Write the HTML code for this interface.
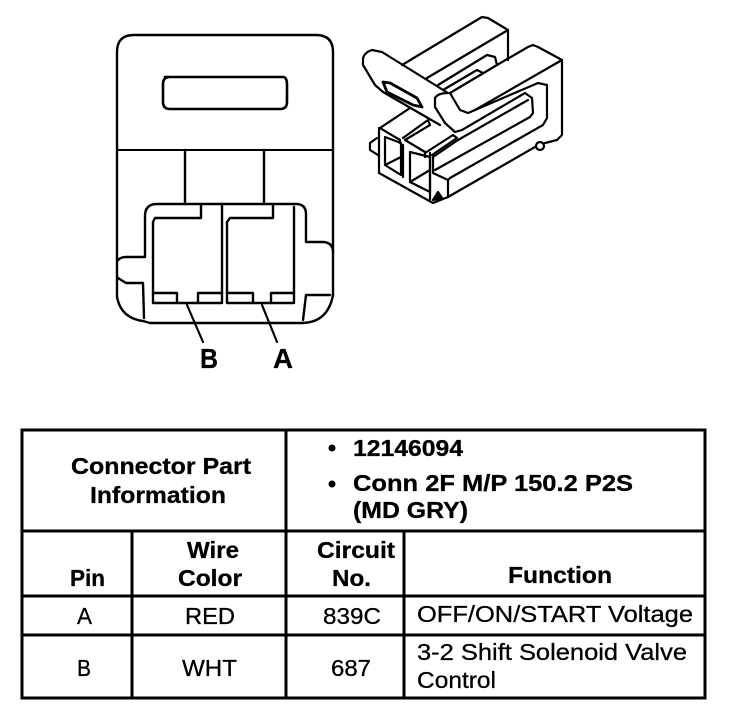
<!DOCTYPE html>
<html><head><meta charset="utf-8"><style>
html,body{margin:0;padding:0;background:#fff}
svg{display:block}
text{font-family:"Liberation Sans",sans-serif;fill:#000;font-size:23.5px;stroke:#000;stroke-width:.3}
.b{font-weight:bold}
</style></head><body>
<svg width="752" height="712" viewBox="0 0 752 712" xmlns="http://www.w3.org/2000/svg">
<rect width="752" height="712" fill="#fff"/>
<g fill="none" stroke="#000" stroke-width="2.4" stroke-linejoin="round" stroke-linecap="round">
<!-- front view -->
<path d="M117 297V52Q117 35 134 35H316Q333 35 333 52V295"/>
<path d="M117 297Q121 318 143 321L150 323H303Q328 322 333 295"/>
<path d="M165 77H283Q287 77 287 85V102Q287 109 280 109H170Q163 109 163 102V84Q163 77 170 77Z" stroke-width="2.6"/>
<path d="M117 150H333" stroke-width="2"/>
<path d="M185 150V204M264 150V204"/>
<path d="M118 260Q121 257 126 257H145V216Q145 204 157 204H296Q306 204 306 214V242H322Q333 242 333 252"/>
<path d="M118 278L126 283H143L144 318"/>
<path d="M330 295H306L303 320"/>
<path d="M201 205V218H155L153 222V303H222V204"/>
<path d="M153 293H177V303M222 293H198V303"/>
<path d="M273 205V218H230L227 222V303H294V207"/>
<path d="M227 293H253V303M294 293H271V303"/>
<path d="M187 305L203 342M262 305L277 342" stroke-width="2.2"/>
<!-- isometric view -->
<g stroke-width="2.2">
<path d="M402 65L482 17L488 18L508 30V60"/>
<path d="M508 30L427 78"/>
<path d="M438 85L487 55L495 57L497 65L450 93"/>
<path d="M443 90L477 70L483 73"/>
<path d="M497 65L528 47L533 45L538 47L562 60V135L557 140L545 143"/>
<path d="M562 60L475 110"/>
<path d="M382 52L372 50Q365 52 363 58V65L375 85L383 92L440 125"/>
<path d="M382 52L448 93Q438 93 435 98L435 107L445 123L455 132L462 130L525 93L532 98L533 113L530 117L435 170"/>
<path d="M450 93L460 110L468 113L475 110L538 83L547 85V118L543 125L450 178"/>
<path d="M383 82L390 83L417 98L422 107L413 105L387 92Z" stroke-width="2.8"/>
<path d="M410 108L380 128L400 140V143"/>
<path d="M403 138L428 120L430 125L405 140L425 152V157"/>
<path d="M425 153L453 135L457 138L432 155"/>
<path d="M433 157L458 140L528 100"/>
<path d="M433 155V173L448 180V197"/>
<path d="M448 180L450 178"/>
<path d="M379 128V173L433 203L448 197L535 147"/>
<circle cx="540" cy="146" r="4"/>
<path d="M377 138L370 143V150L378 155"/>
<path d="M385 137V165L401 175V143ZM385 165L401 157"/>
<path d="M403 145V177"/>
<path d="M410 152V182L430 192V157ZM410 182L430 170"/>
<path d="M430 153V200"/>
<path d="M438 192L433 200L442 198Z" fill="#000"/>
</g>
</g>
<text class="b" x="200" y="368" style="font-size:28px" textLength="18" lengthAdjust="spacingAndGlyphs">B</text>
<text class="b" x="273" y="368" style="font-size:28px" textLength="20" lengthAdjust="spacingAndGlyphs">A</text>
<!-- table -->
<g stroke="#000" stroke-width="3" fill="none">
<rect x="22" y="430" width="683" height="268"/>
<path d="M22 531H705M22 596H705M22 635H705M132 531V698M286 430V698M404 531V698"/>
</g>
<text class="b" x="71" y="474" textLength="180" lengthAdjust="spacingAndGlyphs">Connector Part</text>
<text class="b" x="90" y="503" textLength="136" lengthAdjust="spacingAndGlyphs">Information</text>
<circle cx="332" cy="448" r="3.5" fill="#000"/>
<circle cx="332" cy="484" r="3.5" fill="#000"/>
<text class="b" x="353" y="456" textLength="110" lengthAdjust="spacingAndGlyphs">12146094</text>
<text class="b" x="353" y="491" textLength="280" lengthAdjust="spacingAndGlyphs">Conn 2F M/P 150.2 P2S</text>
<text class="b" x="353" y="518" textLength="115" lengthAdjust="spacingAndGlyphs">(MD GRY)</text>
<text class="b" x="70" y="586" textLength="35" lengthAdjust="spacingAndGlyphs">Pin</text>
<text class="b" x="187" y="558" textLength="52" lengthAdjust="spacingAndGlyphs">Wire</text>
<text class="b" x="178" y="586" textLength="64" lengthAdjust="spacingAndGlyphs">Color</text>
<text class="b" x="317" y="558" textLength="78" lengthAdjust="spacingAndGlyphs">Circuit</text>
<text class="b" x="332" y="586" textLength="39" lengthAdjust="spacingAndGlyphs">No.</text>
<text class="b" x="508" y="583" textLength="104" lengthAdjust="spacingAndGlyphs">Function</text>
<text x="77" y="624" textLength="15" lengthAdjust="spacingAndGlyphs">A</text>
<text x="185" y="624" textLength="50" lengthAdjust="spacingAndGlyphs">RED</text>
<text x="323" y="624" textLength="58" lengthAdjust="spacingAndGlyphs">839C</text>
<text x="417" y="622" textLength="276" lengthAdjust="spacingAndGlyphs">OFF/ON/START Voltage</text>
<text x="77" y="676" textLength="14" lengthAdjust="spacingAndGlyphs">B</text>
<text x="182" y="676" textLength="55" lengthAdjust="spacingAndGlyphs">WHT</text>
<text x="331" y="676" textLength="40" lengthAdjust="spacingAndGlyphs">687</text>
<text x="417" y="660" textLength="270" lengthAdjust="spacingAndGlyphs">3-2 Shift Solenoid Valve</text>
<text x="417" y="688" textLength="79" lengthAdjust="spacingAndGlyphs">Control</text>
</svg>
</body></html>
